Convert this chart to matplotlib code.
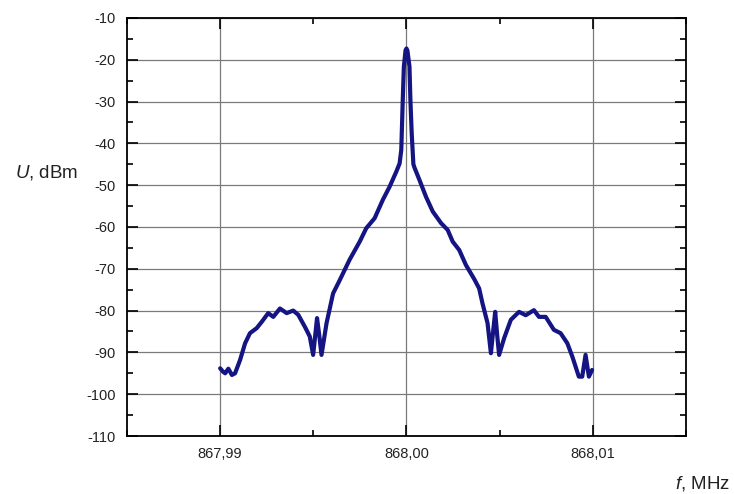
import matplotlib
matplotlib.use("Agg")
import matplotlib.pyplot as plt
from matplotlib.ticker import MultipleLocator, FuncFormatter

plt.rcParams['font.family'] = ['Liberation Sans', 'DejaVu Sans']
plt.rcParams['mathtext.fontset'] = 'custom'
plt.rcParams['mathtext.it'] = 'Liberation Sans:italic'
plt.rcParams['mathtext.rm'] = 'Liberation Sans'

center_mhz = 868.00
# frequency offset from centre, kHz
offset_khz = [-10.00, -9.85, -9.73, -9.56, -9.37, -9.20, -8.93, -8.66, -8.40, -8.04,
              -7.77, -7.42, -7.15, -6.79, -6.43, -6.08, -5.81, -5.45, -5.19, -5.01,
              -4.90, -4.80, -4.68, -4.56, -4.29, -3.94, -3.58, -3.05, -2.51, -2.16,
              -1.71, -1.27, -0.91, -0.55, -0.37, -0.28, -0.20, -0.14, -0.05, 0.00,
              0.05, 0.16, 0.21, 0.28, 0.37, 0.43, 0.70, 1.05, 1.41, 1.86,
              2.21, 2.48, 2.83, 3.19, 3.64, 3.90, 4.08, 4.35, 4.53, 4.65,
              4.76, 4.87, 4.97, 5.24, 5.60, 6.04, 6.40, 6.84, 7.11, 7.47,
              7.91, 8.27, 8.63, 8.90, 9.25, 9.43, 9.61, 9.79, 9.96]
level_dbm = [-93.8, -94.6, -95.0, -93.9, -95.4, -95.0, -91.8, -87.8, -85.4, -84.2,
             -82.7, -80.6, -81.5, -79.5, -80.6, -80.0, -81.0, -83.9, -86.2, -90.6,
             -86.0, -81.8, -86.0, -90.6, -83.0, -75.9, -72.7, -67.8, -63.5, -60.3,
             -57.9, -53.5, -50.4, -46.8, -44.8, -41.6, -29.6, -21.6, -17.7, -17.3,
             -17.8, -21.6, -29.6, -37.6, -45.0, -45.8, -48.8, -52.8, -56.3, -59.1,
             -60.7, -63.5, -65.5, -69.1, -72.5, -74.7, -78.3, -83.0, -90.2, -85.0,
             -80.3, -86.0, -90.6, -86.6, -82.2, -80.3, -81.1, -79.9, -81.5, -81.5,
             -84.6, -85.4, -87.8, -91.0, -95.8, -95.8, -90.6, -95.8, -94.2]

x_ticks = [867.99, 868.00, 868.01]
x_tick_labels = ["867,99", "868,00", "868,01"]

freq = [center_mhz + o / 1000.0 for o in offset_khz]

fig = plt.figure(figsize=(7.34, 4.94), dpi=100)
ax = fig.add_axes([0.173, 0.1174, 0.7616, 0.8462])

ax.plot(freq, level_dbm, color='#141482', lw=3.0, solid_joinstyle='round',
        solid_capstyle='round', zorder=3)

ax.set_xlim(867.985, 868.015)
ax.set_ylim(-110, -10)
ax.set_xticks(x_ticks)
ax.set_xticklabels(x_tick_labels)
ax.xaxis.set_minor_locator(MultipleLocator(0.005))
ax.yaxis.set_major_locator(MultipleLocator(10))
ax.yaxis.set_minor_locator(MultipleLocator(5))
ax.yaxis.set_major_formatter(FuncFormatter(lambda v, p: f"{int(round(v))}"))

ax.grid(True, which='major', color='#7a7a7a', lw=0.9, zorder=1)
ax.tick_params(which='both', direction='in', top=True, right=True,
               labelsize=10.5, colors='black', width=1.2)
ax.tick_params(which='major', length=8, pad=8)
ax.tick_params(which='minor', length=4)
ax.tick_params(axis='y', labelcolor='#222222')
ax.tick_params(axis='x', labelcolor='#222222')
for s in ax.spines.values():
    s.set_linewidth(1.3)

fig.text(15/734, 1-172/494, r"$\mathit{U}$, dBm", fontsize=13.5, va='center', ha='left', color='#222222')
fig.text(730/734, 1-483/494, r"$\mathit{f}$, MHz", fontsize=13.5, va='center', ha='right', color='#222222')

fig.savefig("out.png", dpi=100)
